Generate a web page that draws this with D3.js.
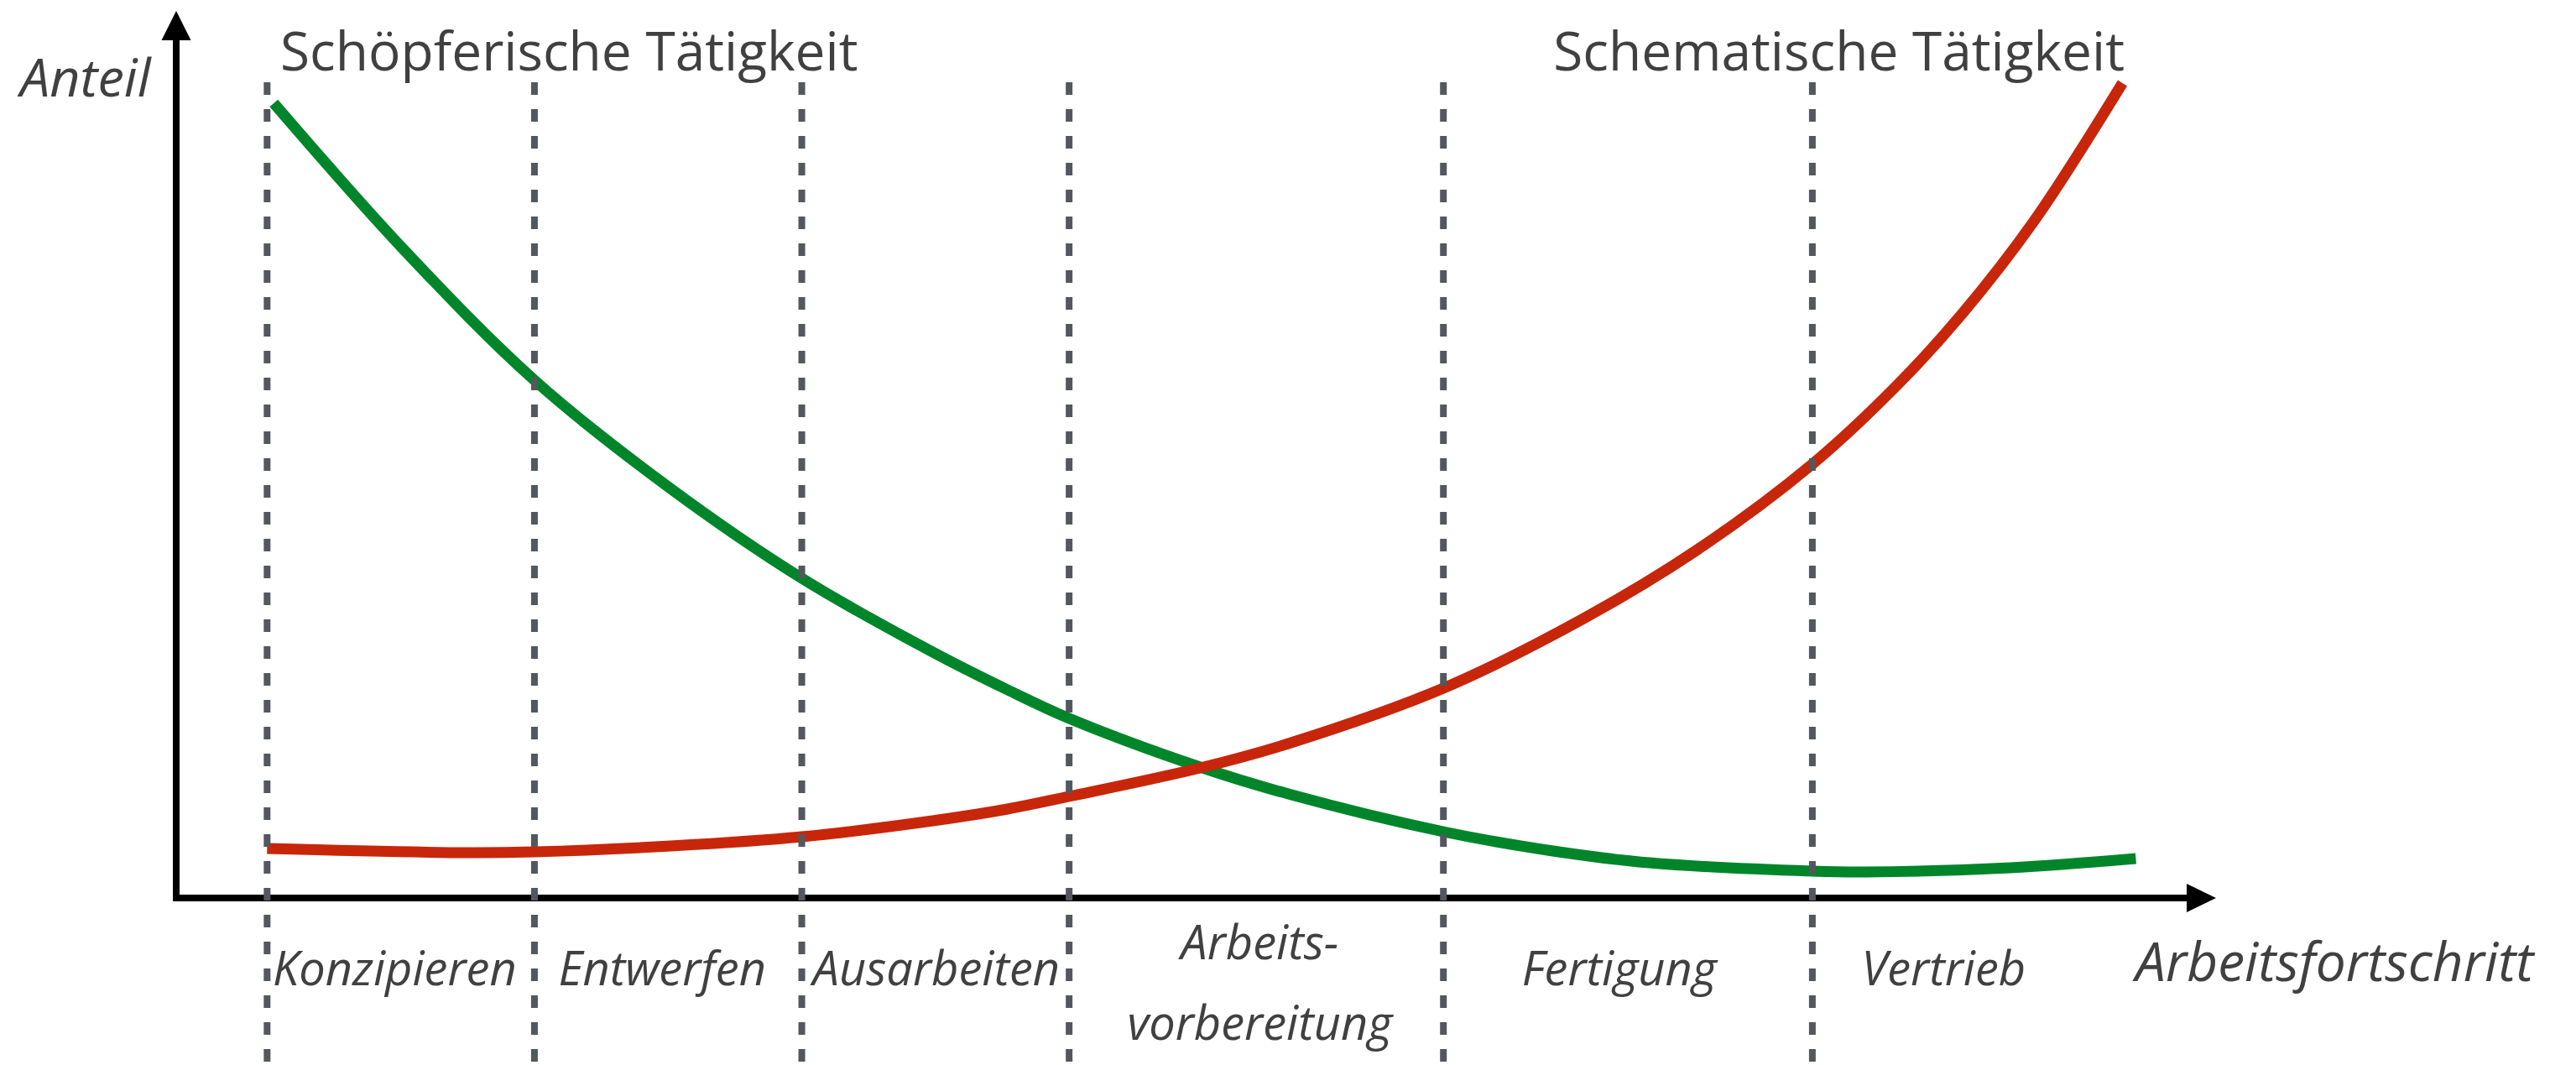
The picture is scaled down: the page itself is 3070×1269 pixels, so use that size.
<!DOCTYPE html>
<html>
<head>
<meta charset="utf-8">
<script src="https://cdn.jsdelivr.net/npm/d3@7"></script>
<style>
  html, body { margin: 0; padding: 0; background: #ffffff; }
  svg { display: block; }
</style>
</head>
<body>
<svg id="chart" width="3070" height="1269"></svg>
<script>
// ---------- data ----------
const stageBounds = [0, 1, 2, 3, 4.4, 5.78];
const stageLabels = [["Konzipieren"], ["Entwerfen"], ["Ausarbeiten"], ["Arbeits-", "vorbereitung"], ["Fertigung"], ["Vertrieb"]];
const stageLabelPos = [0.477, 1.478, 2.503, 3.713, 5.058, 6.271];

const greenX = [0.025, 0.51, 1.0, 1.5, 2.0, 2.49, 2.77, 3.0, 3.49, 3.82, 4.4, 4.81, 5.17, 5.78, 5.98, 6.52, 6.99];
const greenY = [94.7, 77.3, 61.7, 49.0, 38.1, 29.3, 24.8, 21.4, 15.6, 12.4, 7.9, 5.6, 4.2, 3.2, 3.1, 3.6, 4.7];

const redX = [0, 0.75, 1.0, 1.51, 2.0, 2.49, 2.77, 3.0, 3.49, 3.82, 4.4, 4.93, 5.35, 5.78, 6.1, 6.34, 6.61, 6.94];
const redY = [5.9, 5.4, 5.5, 6.2, 7.3, 9.2, 10.6, 12.1, 15.5, 18.4, 25.0, 33.4, 41.5, 51.7, 61.2, 69.6, 80.7, 97.1];

const seriesTitles = ["Schöpferische Tätigkeit", "Schematische Tätigkeit"];
const yAxisTitle = "Anteil";
const xAxisTitle = "Arbeitsfortschritt";

// ---------- layout ----------
const svg = d3.select("#chart");
const x = d3.scaleLinear().domain([-0.34, 7.29]).range([210, 2641]);
const y = d3.scaleLinear().domain([0, 105.7]).range([1070, 13]);

const GREEN = "#00852a";
const RED = "#c8260a";
const GRAY = "#53575e";
const TEXT = "#404040";
const FONT = "'Open Sans', 'Noto Sans', sans-serif";

// ---------- axes ----------
const axisG = svg.append("g");
axisG.append("line")
  .attr("x1", x(-0.34)).attr("x2", x(-0.34))
  .attr("y1", y(0) + 4).attr("y2", y(105.7) + 30)
  .attr("stroke", "#000").attr("stroke-width", 8);
axisG.append("path")
  .attr("d", `M${x(-0.34)},${y(105.7)} L${x(-0.34) - 17.5},${y(105.7) + 35} L${x(-0.34) + 17.5},${y(105.7) + 35} Z`)
  .attr("fill", "#000");
axisG.append("line")
  .attr("x1", x(-0.34) - 4).attr("x2", x(7.29) - 30)
  .attr("y1", y(0)).attr("y2", y(0))
  .attr("stroke", "#000").attr("stroke-width", 8);
axisG.append("path")
  .attr("d", `M${x(7.29)},${y(0)} L${x(7.29) - 35},${y(0) - 17} L${x(7.29) - 35},${y(0) + 17} Z`)
  .attr("fill", "#000");

// ---------- curves ----------
const line = d3.line()
  .x(d => x(d[0]))
  .y(d => y(d[1]))
  .curve(d3.curveCatmullRom.alpha(0.5));

svg.append("path")
  .datum(greenX.map((v, i) => [v, greenY[i]]))
  .attr("d", line)
  .attr("fill", "none")
  .attr("stroke", GREEN)
  .attr("stroke-width", 13)
  .attr("stroke-linecap", "butt");

svg.append("path")
  .datum(redX.map((v, i) => [v, redY[i]]))
  .attr("d", line)
  .attr("fill", "none")
  .attr("stroke", RED)
  .attr("stroke-width", 13)
  .attr("stroke-linecap", "butt");

// ---------- stage dividers (drawn on top) ----------
svg.append("g").selectAll("line")
  .data(stageBounds)
  .join("line")
  .attr("x1", d => x(d)).attr("x2", d => x(d))
  .attr("y1", 98).attr("y2", 1269)
  .attr("stroke", GRAY)
  .attr("stroke-width", 8)
  .attr("stroke-dasharray", "15,17");

// ---------- stage labels ----------
const labG = svg.append("g")
  .attr("font-family", FONT)
  .attr("font-style", "italic")
  .attr("font-size", 56)
  .attr("fill", TEXT)
  .attr("text-anchor", "middle");

stageLabels.forEach((lines, i) => {
  const t = labG.append("text").attr("x", x(stageLabelPos[i]));
  if (lines.length === 1) {
    t.attr("y", 1174).text(lines[0]);
  } else {
    lines.forEach((l, j) => {
      t.append("tspan").attr("x", x(stageLabelPos[i])).attr("y", 1143 + j * 96).text(l);
    });
  }
});

// ---------- titles ----------
svg.append("text")
  .attr("x", 334).attr("y", 84)
  .attr("font-family", FONT).attr("font-size", 64)
  .attr("fill", TEXT)
  .text(seriesTitles[0]);

svg.append("text")
  .attr("x", 2532).attr("y", 84)
  .attr("text-anchor", "end")
  .attr("font-family", FONT).attr("font-size", 64)
  .attr("fill", TEXT)
  .text(seriesTitles[1]);

svg.append("text")
  .attr("x", 24).attr("y", 115)
  .attr("font-family", FONT).attr("font-style", "italic").attr("font-size", 63)
  .attr("fill", TEXT)
  .text(yAxisTitle);

svg.append("text")
  .attr("x", 2545).attr("y", 1169)
  .attr("font-family", FONT).attr("font-style", "italic").attr("font-size", 64)
  .attr("fill", TEXT)
  .text(xAxisTitle);
</script>
</body>
</html>
